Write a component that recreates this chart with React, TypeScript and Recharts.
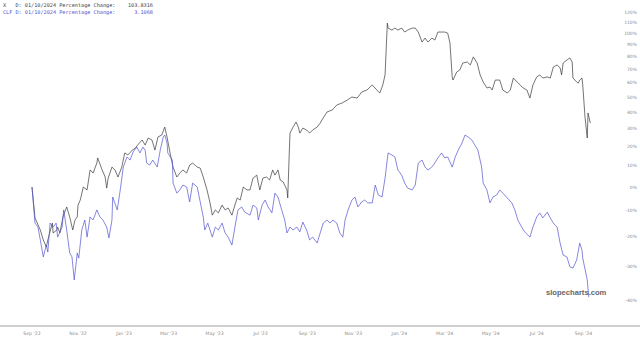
import React from 'react';
import { LineChart, Line, XAxis, YAxis } from 'recharts';

// X (US Steel) – days since 2022-09-01 and percentage change
const xDays = [
  0, 4, 11, 15, 19, 21, 27, 28, 33, 34,
  37, 41, 46, 50, 54, 57, 60, 61, 64, 68,
  73, 77, 81, 86, 87, 93, 97, 99, 101, 106,
  110, 114, 119, 123, 127, 133, 137, 140, 146, 150,
  154, 159, 163, 167, 172, 176, 179, 183, 187, 192,
  196, 200, 205, 209, 213, 219, 223, 227, 232, 236,
  239, 243, 247, 252, 256, 260, 265, 269, 272, 276,
  280, 285, 289, 293, 298, 300, 302, 306, 311, 315,
  319, 322, 326, 329, 333, 338, 339, 341, 342, 346,
  350, 353, 355, 359, 364, 368, 372, 378, 382, 386,
  391, 398, 404, 411, 418, 424, 431, 437, 444, 451,
  457, 461, 465, 468, 471, 472, 477, 481, 485, 490,
  494, 498, 504, 508, 512, 517, 521, 525, 530, 534,
  538, 543, 547, 551, 554, 557, 558, 563, 567, 571,
  577, 581, 585, 590, 594, 598, 603, 607, 610, 614,
  620, 624, 630, 634, 638, 643, 647, 651, 656, 660,
  664, 669, 673, 677, 683, 687, 691, 696, 700, 702,
  704, 709, 713, 716, 717, 722, 724, 726, 729, 730,
  733, 736, 737, 740,
];
const xPct = [
  0, -13, -17.6, -21.2, -23.7, -21.2, -15, -18.7, -17.6, -16.5,
  -18.7, -12.6, -8.6, -12.6, -17.6, -13.8, -12.6, -7.8, -5.7, 0,
  -1.3, 8, 6.5, 11.4, 14, 8, 4.6, -0.5, 4.1, 9.4,
  8, 4.6, 9.4, 16.6, 15.5, 18.1, 19.2, 20.8, 23.6, 20.8,
  24.7, 23.6, 18.1, 25.3, 26.4, 31, 25.3, 16.6, 9.4, 4.6,
  6.5, 8, 6.5, 10.4, 11.4, 9.4, 8.9, 4.6, -1.3, -6.9,
  -11.9, -9.8, -11, -7.8, -9.8, -9, -11.9, -7.8, -4.8, -5.7,
  0, -1.3, -1.3, 4.1, 5.5, 1.8, -1.3, 4.1, 4.6, 3.2,
  8, 5.5, 8, 3.2, 2.3, -1.3, -4.8, 16.6, 27.5, 31,
  34, 31, 27.5, 30.4, 29.3, 27.5, 29.3, 31, 33.4, 36.5,
  40.2, 41.5, 44.7, 46, 48, 50, 49.3, 53.4, 54.8, 58.4,
  54.8, 52.7, 58.4, 65.7, 109.3, 104.6, 102.8, 104.6, 102.8, 104.6,
  101, 102.8, 104.6, 104.6, 101, 92.1, 95.6, 92.1, 95.6, 93.9,
  101, 101, 101, 100, 91.3, 64.2, 61.9, 67.9, 69.4, 74.8,
  75.6, 73.3, 79.7, 74.8, 65.7, 60.5, 56.2, 56.9, 54.8, 61.9,
  61.9, 54.8, 52.7, 54.8, 63.4, 60.5, 58.4, 56.2, 54.8, 49.3,
  58.4, 64.2, 65.7, 63.4, 64.2, 63.4, 71.7, 73.3, 71, 65.7,
  74.8, 77.2, 78.8, 75.6, 63.4, 60.5, 59.7, 61.9, 63.4, 58.4,
  37.1, 24.7, 39.6, 33.4,
];

// CLF – days since 2022-09-01 and percentage change
const clfDays = [
  0, 4, 8, 15, 19, 21, 24, 28, 32, 34,
  40, 42, 46, 50, 53, 56, 60, 62, 66, 70,
  73, 77, 81, 86, 90, 94, 99, 102, 106, 107,
  113, 117, 121, 126, 130, 134, 139, 143, 147, 150,
  152, 156, 160, 166, 170, 174, 176, 179, 180, 186,
  187, 192, 196, 200, 205, 209, 213, 219, 223, 227,
  229, 233, 239, 243, 247, 252, 256, 260, 265, 269,
  273, 278, 282, 289, 293, 298, 300, 305, 309, 313,
  318, 322, 326, 331, 335, 338, 342, 346, 351, 355,
  359, 364, 368, 372, 378, 382, 386, 391, 395, 399,
  404, 408, 412, 415, 419, 424, 428, 432, 437, 441,
  445, 451, 455, 459, 464, 468, 472, 477, 481, 485,
  490, 494, 498, 504, 508, 512, 517, 521, 525, 530,
  534, 538, 543, 547, 551, 557, 561, 565, 570, 574,
  578, 583, 587, 591, 596, 598, 603, 607, 611, 616,
  620, 624, 630, 636, 640, 644, 649, 653, 660, 664,
  669, 673, 677, 683, 687, 691, 696, 700, 704, 709,
  713, 717, 722, 726, 729, 730, 736, 738,
];
const clfPct = [
  0, -15, -16.5, -27, -23, -25.4, -15, -16.5, -15, -20.2,
  -16.5, -9.8, -17.6, -25.7, -27, -34.2, -25.7, -27.4, -17.6, -13.8,
  -20.2, -12.6, -13.8, -9.8, -12.6, -13.8, -16.5, -20.5, -13.8, -4.4,
  -9.8, -1.3, 9.4, 14.5, 12.9, 17.1, 19.7, 16.6, 19.7, 18.1,
  11.4, 10.4, 12.9, 9.4, 18.1, 25.3, 26.4, 21.9, 16.6, 12.9,
  1.8, -2.7, -1.3, 0.9, 0, -6.5, 1.8, 0, -6.5, -12.6,
  -17.6, -15, -20.2, -16.5, -17.6, -15, -18.7, -20.2, -23, -16.5,
  -9.8, -8.6, -10.7, -11.9, -7.8, -9, -13.8, -7.8, -5.7, -8.6,
  -11, -2.7, -4.4, -9.8, -13.8, -18.7, -16.5, -17.6, -16.5, -18.3,
  -14.6, -17.6, -21.2, -20.2, -22.3, -18.7, -15, -13.8, -15, -13.8,
  -15, -18.7, -20.2, -13.8, -9.8, -5.7, -4.4, -8.6, -6.5, -5.7,
  -6.9, -6.9, 0.9, -3.5, -4.4, 4.1, 16.6, 15.5, 14.5, 8,
  5.5, 1.8, -0.5, -1.3, 0.9, 11.4, 12.9, 9.4, 8, 9.4,
  11.4, 14, 16.6, 14, 14.5, 9.4, 14.5, 18.1, 21.9, 26.4,
  25.3, 23.6, 20.8, 18.1, 9.4, 1.8, -1.3, -6.9, -4.4, -3.5,
  -1.3, -2.7, -4.8, -6.9, -9.8, -13.8, -16.5, -18.3, -20.2, -16.5,
  -12.6, -11, -13, -10.7, -13, -15, -16.5, -22.3, -26.4, -27,
  -30.2, -30.6, -28, -22.3, -24.7, -27.4, -34.2, -39.1,
];

const tickDays = [0, 61, 122, 181, 242, 303, 365, 426, 487, 547, 608, 669, 731];
const tickLabels = [
  "Sep '22", "Nov '22", "Jan '23", "Mar '23", "May '23", "Jul '23", "Sep '23",
  "Nov '23", "Jan '24", "Mar '24", "May '24", "Jul '24", "Sep '24",
];
const yTickPcts = [-40, -30, -20, -10, 0, 10, 20, 30, 40, 50, 60, 70, 80, 90, 100, 110, 120];

const headerLines = [
  'X   D: 01/10/2024 Percentage Change:    103.8316',
  'CLF D: 01/10/2024 Percentage Change:      3.1068',
];
const watermark = 'slopecharts.com';

const xData = xDays.map((d, i) => ({ d, v: 1 + xPct[i] / 100 }));
const clfData = clfDays.map((d, i) => ({ d, v: 1 + clfPct[i] / 100 }));
const yTicks = yTickPcts.map((p) => 1 + p / 100);

export default function App() {
  return (
    <div
      style={{
        position: 'absolute',
        left: 0,
        top: 0,
        width: 640,
        height: 340,
        background: '#fff',
        overflow: 'hidden',
      }}
    >
      <LineChart width={640} height={340} margin={{ top: 0, right: 0, bottom: 0, left: 0 }}>
        <XAxis
          type="number"
          dataKey="d"
          domain={[-42.4, 805.9]}
          allowDataOverflow
          ticks={tickDays}
          interval={0}
          tickFormatter={(v: number) => tickLabels[tickDays.indexOf(v)] ?? ''}
          height={14}
          tickLine={false}
          tickSize={0}
          tickMargin={6}
          axisLine={{ stroke: '#a0a0a0', strokeWidth: 1 }}
          tick={{ fontSize: 4.6, fill: '#8a8a8a', fontFamily: 'DejaVu Sans' }}
        />
        <YAxis
          type="number"
          dataKey="v"
          orientation="right"
          mirror
          scale="log"
          domain={[0.5347, 2.322]}
          allowDataOverflow
          ticks={yTicks}
          interval={0}
          tickFormatter={(v: number) => `${Math.round((v - 1) * 100)}%`}
          axisLine={false}
          tickLine={false}
          tickSize={0}
          tickMargin={3}
          width={30}
          tick={{ fontSize: 4.5, fill: '#8a8a8a', fontFamily: 'DejaVu Sans' }}
        />
        <Line
          data={xData}
          dataKey="v"
          type="linear"
          stroke="#3a3a3a"
          strokeWidth={0.7}
          dot={false}
          activeDot={false}
          isAnimationActive={false}
        />
        <Line
          data={clfData}
          dataKey="v"
          type="linear"
          stroke="#5353d0"
          strokeWidth={0.7}
          dot={false}
          activeDot={false}
          isAnimationActive={false}
        />
      </LineChart>
      <div
        style={{
          position: 'absolute',
          left: 3,
          top: 2,
          fontFamily: 'DejaVu Sans Mono',
          fontSize: 5.2,
          lineHeight: '6.5px',
          whiteSpace: 'pre',
        }}
      >
        <div style={{ color: '#444' }}>{headerLines[0]}</div>
        <div style={{ color: '#5555cc' }}>{headerLines[1]}</div>
      </div>
      <div
        style={{
          position: 'absolute',
          left: 546,
          top: 288,
          fontFamily: 'Liberation Sans',
          fontWeight: 'bold',
          fontSize: 7.6,
          color: '#666',
          whiteSpace: 'pre',
        }}
      >
        {watermark}
      </div>
    </div>
  );
}
